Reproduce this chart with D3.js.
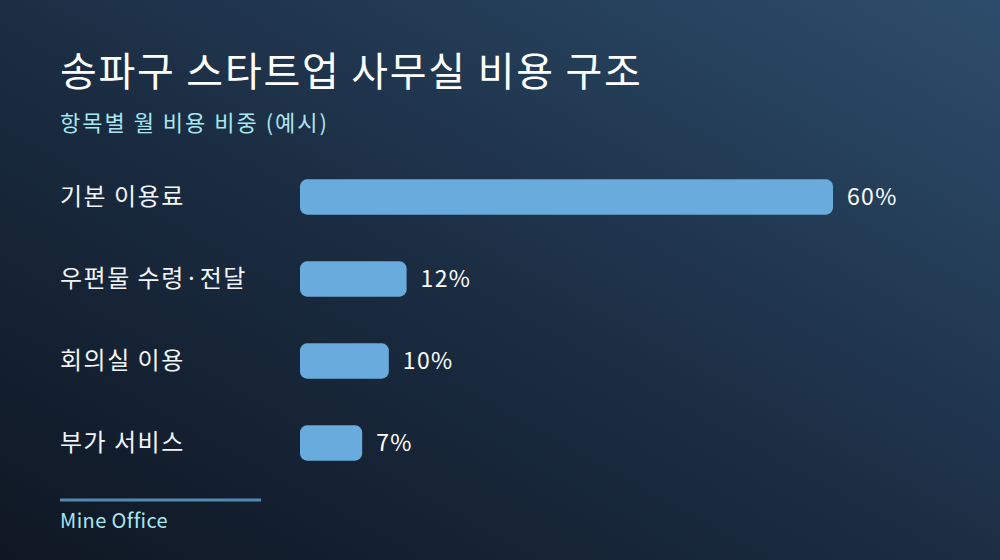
<!DOCTYPE html>
<html>
<head>
<meta charset="utf-8">
<script src="https://cdn.jsdelivr.net/npm/d3@7"></script>
<style>
  html, body { margin: 0; padding: 0; background: #111a27; }
  svg { display: block; font-family: "Noto Sans CJK KR", "Noto Sans", sans-serif; }
</style>
</head>
<body>
<svg id="chart"></svg>
<script>
// data
const categories = ["기본 이용료", "우편물 수령·전달", "회의실 이용", "부가 서비스"];
const shares = [60, 12, 10, 7];
const title = "송파구 스타트업 사무실 비용 구조";
const subtitle = "항목별 월 비용 비중 (예시)";
const source = "Mine Office";

const width = 1000, height = 560;
const margin = { top: 156, left: 300, right: 167, bottom: 82 };

const svg = d3.select("#chart").attr("width", width).attr("height", height);

// background
const defs = svg.append("defs");
const grad = defs.append("linearGradient").attr("id", "bg")
  .attr("x1", "100%").attr("y1", "0%").attr("x2", "0%").attr("y2", "100%");
grad.append("stop").attr("offset", "0%").attr("stop-color", "#2d4d6c");
grad.append("stop").attr("offset", "55%").attr("stop-color", "#1a2b40");
grad.append("stop").attr("offset", "100%").attr("stop-color", "#0f1723");
svg.append("rect").attr("width", width).attr("height", height).attr("fill", "url(#bg)");

// titles
svg.append("text").attr("x", 60).attr("y", 86)
  .attr("font-size", 40).attr("font-weight", 400).attr("letter-spacing", 1.75)
  .attr("fill", "#ffffff")
  .text(title);
svg.append("text").attr("x", 60).attr("y", 131)
  .attr("font-size", 22).attr("letter-spacing", 2).attr("fill", "#a8e6f2")
  .text(subtitle);

// scales
const x = d3.scaleLinear().domain([0, 60]).range([margin.left, 833]);
const y = d3.scaleBand().domain(categories)
  .range([156, 484]).paddingInner(0.57).paddingOuter(0.285);

const rows = svg.append("g").selectAll("g")
  .data(categories.map((c, i) => ({ c, v: shares[i] })))
  .join("g");

rows.append("rect")
  .attr("x", x(0))
  .attr("y", d => y(d.c))
  .attr("width", d => x(d.v) - x(0))
  .attr("height", y.bandwidth())
  .attr("rx", 7)
  .attr("fill", "#68abdc");

rows.append("text")
  .attr("x", 60)
  .attr("y", d => y(d.c) + y.bandwidth() / 2)
  .attr("dy", "0.35em")
  .attr("font-size", 24)
  .attr("letter-spacing", 1.5)
  .attr("fill", "#f2f5f8")
  .text(d => d.c);

rows.append("text")
  .attr("x", d => x(d.v) + 14)
  .attr("y", d => y(d.c) + y.bandwidth() / 2)
  .attr("dy", "0.35em")
  .attr("font-size", 23)
  .attr("letter-spacing", 1.3)
  .attr("fill", "#ffffff")
  .text(d => d.v + "%");

// footer
svg.append("line").attr("x1", 60).attr("x2", 261).attr("y1", 500).attr("y2", 500)
  .attr("stroke", "#5388b0").attr("stroke-width", 3);
svg.append("text").attr("x", 60).attr("y", 528)
  .attr("font-size", 20).attr("letter-spacing", 0.4).attr("fill", "#a8e6f2")
  .text(source);
</script>
</body>
</html>
